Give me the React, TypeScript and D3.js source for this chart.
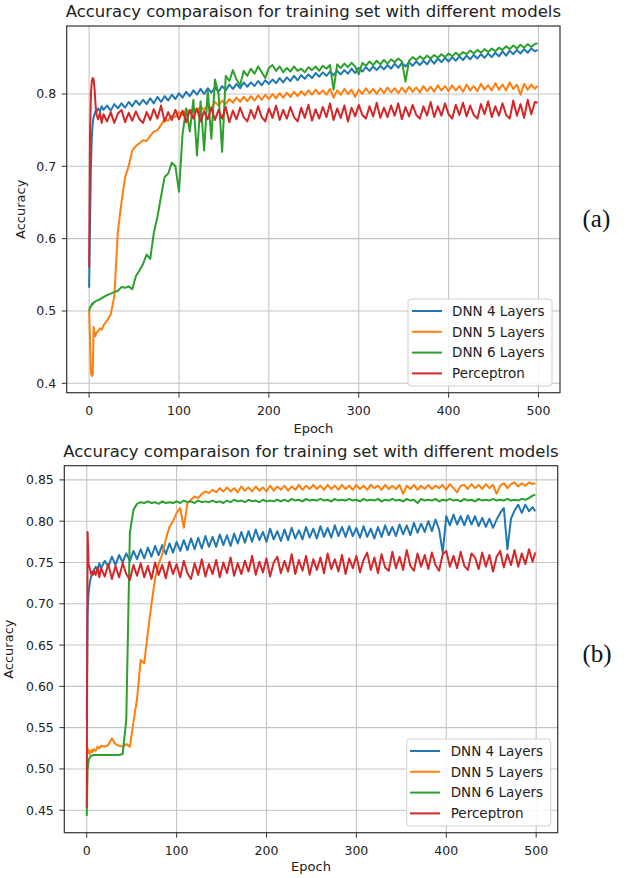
import React from "react";
import * as d3 from "d3";

// x grid of sampled epochs (dense at the start, then every 4 epochs)
const EPOCHS: number[] = [0, 1, 2, 3, 4, 5, 6, 7, 8, 10, 12, 14, 16, ...d3.range(20, 497, 4), 499];

const SERIES_NAMES = ["DNN 4 Layers", "DNN 5 Layers", "DNN 6 Layers", "Perceptron"];
const COLORS = ["#1f77b4", "#ff7f0e", "#2ca02c", "#d62728"];
const TITLE = "Accuracy comparaison for training set with different models";
const X_TICKS = [0, 100, 200, 300, 400, 500];
const A_Y_TICKS = [0.4, 0.5, 0.6, 0.7, 0.8];
const B_Y_TICKS = [0.45, 0.5, 0.55, 0.6, 0.65, 0.7, 0.75, 0.8, 0.85];

// ---------- panel (a) ----------
const A_DNN4 = [
  0.532, 0.62, 0.70, 0.74, 0.76, 0.768, 0.772, 0.776, 0.775, 0.780, 0.776, 0.783, 0.778,
  0.784, 0.777, 0.786, 0.780, 0.787, 0.781, 0.789, 0.783, 0.791, 0.785,
  0.792, 0.786, 0.794, 0.787, 0.796, 0.789, 0.797, 0.791, 0.799, 0.793,
  0.801, 0.795, 0.803, 0.797, 0.805, 0.799, 0.807, 0.800, 0.808, 0.802,
  0.809, 0.803, 0.811, 0.805, 0.813, 0.807, 0.814, 0.808, 0.816, 0.810,
  0.816, 0.811, 0.818, 0.812, 0.819, 0.814, 0.820, 0.815, 0.822, 0.816,
  0.823, 0.818, 0.825, 0.819, 0.826, 0.821, 0.827, 0.822, 0.829, 0.824,
  0.830, 0.825, 0.831, 0.826, 0.832, 0.827, 0.833, 0.828, 0.835, 0.829,
  0.836, 0.831, 0.837, 0.832, 0.838, 0.833, 0.839, 0.834, 0.840, 0.835,
  0.842, 0.836, 0.843, 0.838, 0.844, 0.839, 0.845, 0.840, 0.846, 0.841,
  0.848, 0.842, 0.849, 0.844, 0.850, 0.845, 0.851, 0.846, 0.852, 0.847,
  0.853, 0.848, 0.854, 0.849, 0.855, 0.850, 0.856, 0.851, 0.857, 0.852,
  0.859, 0.853, 0.860, 0.855, 0.861, 0.856, 0.862, 0.857, 0.863, 0.859,
  0.861,
];
const A_DNN5 = [
  0.50, 0.46, 0.415, 0.41, 0.412, 0.478, 0.468, 0.465, 0.470, 0.472, 0.476, 0.474, 0.480,
  0.487, 0.495, 0.520, 0.610, 0.650, 0.685, 0.700, 0.722, 0.728, 0.732,
  0.736, 0.735, 0.742, 0.748, 0.750, 0.757, 0.765, 0.763, 0.770, 0.768,
  0.775, 0.771, 0.779, 0.774, 0.781, 0.776, 0.783, 0.778, 0.785, 0.780,
  0.789, 0.784, 0.791, 0.786, 0.793, 0.788, 0.795, 0.789, 0.796, 0.790,
  0.797, 0.791, 0.798, 0.792, 0.799, 0.793, 0.800, 0.794, 0.801, 0.795,
  0.802, 0.796, 0.803, 0.797, 0.804, 0.798, 0.805, 0.799, 0.806, 0.800,
  0.805, 0.799, 0.807, 0.795, 0.805, 0.799, 0.807, 0.800, 0.806, 0.796,
  0.806, 0.800, 0.808, 0.801, 0.807, 0.800, 0.808, 0.801, 0.809, 0.802,
  0.808, 0.801, 0.809, 0.802, 0.810, 0.803, 0.809, 0.802, 0.811, 0.804,
  0.810, 0.803, 0.812, 0.805, 0.811, 0.804, 0.812, 0.805, 0.811, 0.803,
  0.813, 0.805, 0.811, 0.804, 0.814, 0.806, 0.812, 0.805, 0.815, 0.806,
  0.813, 0.805, 0.816, 0.807, 0.813, 0.799, 0.814, 0.806, 0.813, 0.807,
  0.811,
];
const A_DNN6 = [
  0.500, 0.505, 0.506, 0.510, 0.509, 0.512, 0.512, 0.513, 0.514, 0.515, 0.516, 0.518, 0.519,
  0.522, 0.524, 0.526, 0.528, 0.533, 0.532, 0.534, 0.530, 0.548, 0.556,
  0.565, 0.578, 0.572, 0.608, 0.630, 0.658, 0.685, 0.690, 0.705, 0.700,
  0.665, 0.745, 0.780, 0.748, 0.792, 0.715, 0.790, 0.722, 0.805, 0.738,
  0.820, 0.800, 0.720, 0.825, 0.818, 0.833, 0.820, 0.812, 0.832, 0.825,
  0.835, 0.828, 0.838, 0.830, 0.822, 0.836, 0.840, 0.832, 0.838, 0.830,
  0.836, 0.831, 0.838, 0.832, 0.835, 0.830, 0.837, 0.833, 0.838, 0.832,
  0.839, 0.835, 0.840, 0.806, 0.841, 0.836, 0.842, 0.837, 0.843, 0.838,
  0.827, 0.843, 0.839, 0.845, 0.840, 0.846, 0.841, 0.847, 0.842, 0.848,
  0.844, 0.849, 0.845, 0.817, 0.846, 0.851, 0.847, 0.852, 0.848, 0.853,
  0.849, 0.854, 0.850, 0.855, 0.851, 0.856, 0.852, 0.857, 0.853, 0.858,
  0.855, 0.860, 0.856, 0.861, 0.857, 0.862, 0.858, 0.863, 0.859, 0.864,
  0.861, 0.866, 0.862, 0.867, 0.863, 0.868, 0.864, 0.869, 0.865, 0.869,
  0.870,
];
const A_PERC = [
  0.560, 0.745, 0.800, 0.818, 0.822, 0.820, 0.808, 0.788, 0.772, 0.765, 0.774, 0.760, 0.772,
  0.762, 0.775, 0.760, 0.773, 0.778, 0.761, 0.774, 0.763, 0.776, 0.765,
  0.760, 0.775, 0.764, 0.779, 0.766, 0.784, 0.762, 0.775, 0.764, 0.778,
  0.765, 0.777, 0.761, 0.778, 0.766, 0.780, 0.762, 0.776, 0.765, 0.781,
  0.764, 0.778, 0.766, 0.782, 0.761, 0.777, 0.765, 0.781, 0.768, 0.762,
  0.778, 0.766, 0.783, 0.768, 0.762, 0.780, 0.767, 0.784, 0.764, 0.778,
  0.766, 0.782, 0.768, 0.762, 0.781, 0.767, 0.785, 0.763, 0.779, 0.766,
  0.782, 0.768, 0.787, 0.764, 0.780, 0.767, 0.784, 0.762, 0.781, 0.769,
  0.785, 0.771, 0.766, 0.783, 0.769, 0.788, 0.767, 0.781, 0.768, 0.784,
  0.770, 0.787, 0.765, 0.782, 0.769, 0.785, 0.771, 0.766, 0.783, 0.770,
  0.789, 0.768, 0.783, 0.770, 0.787, 0.772, 0.766, 0.785, 0.771, 0.788,
  0.769, 0.784, 0.771, 0.766, 0.786, 0.772, 0.790, 0.768, 0.783, 0.770,
  0.787, 0.771, 0.766, 0.791, 0.770, 0.786, 0.767, 0.792, 0.772, 0.789,
  0.788,
];

// ---------- panel (b) ----------
const B_DNN4 = [
  0.560, 0.690, 0.712, 0.722, 0.729, 0.733, 0.737, 0.739, 0.741, 0.745, 0.740, 0.749, 0.743,
  0.752, 0.745, 0.757, 0.747, 0.759, 0.750, 0.761, 0.752, 0.764, 0.754,
  0.766, 0.755, 0.768, 0.757, 0.770, 0.759, 0.771, 0.760, 0.773, 0.762,
  0.775, 0.764, 0.777, 0.765, 0.779, 0.766, 0.780, 0.767, 0.782, 0.769,
  0.781, 0.769, 0.784, 0.771, 0.783, 0.770, 0.785, 0.773, 0.787, 0.774,
  0.788, 0.775, 0.790, 0.777, 0.787, 0.775, 0.791, 0.778, 0.788, 0.776,
  0.790, 0.777, 0.792, 0.779, 0.789, 0.778, 0.793, 0.780, 0.791, 0.779,
  0.794, 0.781, 0.792, 0.780, 0.795, 0.782, 0.793, 0.781, 0.794, 0.782,
  0.792, 0.780, 0.794, 0.781, 0.791, 0.779, 0.793, 0.781, 0.795, 0.783,
  0.793, 0.782, 0.796, 0.784, 0.795, 0.783, 0.798, 0.786, 0.797, 0.787,
  0.800, 0.788, 0.802, 0.790, 0.762, 0.806, 0.795, 0.808, 0.796, 0.806,
  0.795, 0.807, 0.796, 0.806, 0.794, 0.804, 0.793, 0.803, 0.792, 0.802,
  0.810, 0.816, 0.766, 0.803, 0.813, 0.820, 0.810, 0.820, 0.812, 0.817,
  0.812,
];
const B_DNN5 = [
  0.515, 0.525, 0.522, 0.518, 0.522, 0.520, 0.523, 0.521, 0.524, 0.522, 0.527, 0.525, 0.528,
  0.527, 0.529, 0.537, 0.530, 0.528, 0.527, 0.530, 0.527, 0.557, 0.585,
  0.632, 0.628, 0.665, 0.700, 0.730, 0.748, 0.760, 0.778, 0.793, 0.800,
  0.810, 0.816, 0.792, 0.822, 0.826, 0.830, 0.828, 0.833, 0.836, 0.834,
  0.838, 0.835, 0.840, 0.836, 0.841, 0.836, 0.840, 0.835, 0.842, 0.837,
  0.841, 0.836, 0.842, 0.837, 0.841, 0.836, 0.843, 0.837, 0.842, 0.838,
  0.843, 0.837, 0.842, 0.838, 0.844, 0.838, 0.843, 0.839, 0.844, 0.839,
  0.843, 0.838, 0.844, 0.839, 0.843, 0.838, 0.844, 0.839, 0.843, 0.838,
  0.844, 0.839, 0.843, 0.838, 0.844, 0.840, 0.843, 0.838, 0.844, 0.839,
  0.843, 0.839, 0.844, 0.833, 0.843, 0.839, 0.844, 0.838, 0.843, 0.839,
  0.844, 0.839, 0.843, 0.840, 0.844, 0.838, 0.845, 0.840, 0.835, 0.843,
  0.844, 0.839, 0.845, 0.840, 0.844, 0.839, 0.845, 0.840, 0.844, 0.833,
  0.843, 0.846, 0.840, 0.845, 0.847, 0.842, 0.846, 0.843, 0.847, 0.845,
  0.846,
];
const B_DNN6 = [
  0.443, 0.500, 0.510, 0.513, 0.515, 0.516, 0.516, 0.517, 0.517, 0.517, 0.517, 0.517, 0.517,
  0.517, 0.517, 0.517, 0.517, 0.517, 0.518, 0.560, 0.786, 0.814, 0.821,
  0.823, 0.822, 0.824, 0.822, 0.823, 0.821, 0.824, 0.822, 0.823, 0.822,
  0.824, 0.822, 0.825, 0.823, 0.824, 0.822, 0.825, 0.823, 0.824, 0.823,
  0.825, 0.823, 0.824, 0.822, 0.825, 0.823, 0.826, 0.824, 0.825, 0.823,
  0.826, 0.824, 0.825, 0.823, 0.826, 0.824, 0.825, 0.824, 0.826, 0.824,
  0.826, 0.824, 0.827, 0.825, 0.826, 0.824, 0.827, 0.825, 0.826, 0.825,
  0.827, 0.825, 0.826, 0.824, 0.827, 0.825, 0.826, 0.825, 0.827, 0.825,
  0.826, 0.824, 0.827, 0.825, 0.826, 0.825, 0.827, 0.824, 0.826, 0.825,
  0.827, 0.825, 0.826, 0.824, 0.827, 0.825, 0.826, 0.822, 0.827, 0.825,
  0.826, 0.825, 0.827, 0.824, 0.826, 0.825, 0.827, 0.825, 0.826, 0.824,
  0.827, 0.825, 0.826, 0.824, 0.827, 0.825, 0.826, 0.825, 0.827, 0.825,
  0.826, 0.825, 0.827, 0.825, 0.826, 0.825, 0.827, 0.826, 0.828, 0.831,
  0.832,
];
const B_PERC = [
  0.453, 0.787, 0.748, 0.745, 0.740, 0.736, 0.738, 0.735, 0.740, 0.735, 0.744, 0.732, 0.743,
  0.733, 0.748, 0.730, 0.746, 0.732, 0.749, 0.736, 0.729, 0.747, 0.734,
  0.749, 0.732, 0.746, 0.730, 0.750, 0.735, 0.747, 0.731, 0.751, 0.736,
  0.748, 0.732, 0.752, 0.737, 0.730, 0.749, 0.735, 0.754, 0.733, 0.748,
  0.736, 0.753, 0.732, 0.750, 0.737, 0.756, 0.734, 0.749, 0.736, 0.752,
  0.739, 0.758, 0.735, 0.751, 0.738, 0.755, 0.733, 0.750, 0.757, 0.737,
  0.752, 0.739, 0.760, 0.736, 0.753, 0.740, 0.758, 0.735, 0.754, 0.741,
  0.756, 0.737, 0.761, 0.742, 0.754, 0.739, 0.759, 0.736, 0.755, 0.743,
  0.758, 0.738, 0.753, 0.762, 0.741, 0.756, 0.737, 0.760, 0.744, 0.740,
  0.763, 0.743, 0.757, 0.741, 0.765, 0.746, 0.740, 0.761, 0.745, 0.759,
  0.742, 0.762, 0.747, 0.740, 0.760, 0.764, 0.745, 0.758, 0.743, 0.763,
  0.746, 0.741, 0.761, 0.756, 0.742, 0.762, 0.745, 0.759, 0.739, 0.757,
  0.764, 0.744, 0.760, 0.747, 0.765, 0.745, 0.761, 0.748, 0.766, 0.751,
  0.762,
];

const FONT = "DejaVu Sans, sans-serif";

type Panel = {
  series: number[][];
  yDomain: [number, number];
  yTicks: number[];
  fmt: string;
  box: { l: number; r: number; t: number; b: number };
  titleY: number;
  xLabelY: number;
  yLabelX: number;
  tag: string;
  tagY: number;
  legend: { x: number; y: number; w: number; h: number; lineX: number; textX: number };
};

const PANELS: Panel[] = [
  {
    series: [A_DNN4, A_DNN5, A_DNN6, A_PERC],
    yDomain: [0.387, 0.894],
    yTicks: A_Y_TICKS,
    fmt: ".1f",
    box: { l: 66.7, r: 560, t: 26, b: 392.7 },
    titleY: 16.5,
    xLabelY: 432.5,
    yLabelX: 24.5,
    tag: "(a)",
    tagY: 227,
    legend: { x: 408, y: 299, w: 144, h: 87, lineX: 412, textX: 452 },
  },
  {
    series: [B_DNN4, B_DNN5, B_DNN6, B_PERC],
    yDomain: [0.4228, 0.8672],
    yTicks: B_Y_TICKS,
    fmt: ".2f",
    box: { l: 64.3, r: 557.7, t: 465.7, b: 832.7 },
    titleY: 456.5,
    xLabelY: 871,
    yLabelX: 13,
    tag: "(b)",
    tagY: 662,
    legend: { x: 406.7, y: 739, w: 144, h: 87, lineX: 410, textX: 450.7 },
  },
];

function ChartPanel({ p }: { p: Panel }) {
  const { l, r, t, b } = p.box;
  const x = d3.scaleLinear().domain([-24.95, 523.95]).range([l, r]);
  const y = d3.scaleLinear().domain(p.yDomain).range([b, t]);
  const line = d3
    .line<number>()
    .x((_, i) => x(EPOCHS[i]))
    .y((d) => y(d));
  const fmt = d3.format(p.fmt);
  const rowGap = 20.8;
  return (
    <g>
      <text x={(l + r) / 2} y={p.titleY} textAnchor="middle" fontFamily={FONT} fontSize={16.5} fill="#222">
        {TITLE}
      </text>
      {X_TICKS.map((v) => (
        <line key={"gx" + v} x1={x(v)} x2={x(v)} y1={t} y2={b} stroke="#c4c4c4" strokeWidth={1.1} />
      ))}
      {p.yTicks.map((v) => (
        <line key={"gy" + v} x1={l} x2={r} y1={y(v)} y2={y(v)} stroke="#c4c4c4" strokeWidth={1.1} />
      ))}
      <g>
        {p.series.map((s, i) => (
          <path key={i} d={line(s) || ""} fill="none" stroke={COLORS[i]} strokeWidth={2} strokeLinejoin="round" />
        ))}
      </g>
      <rect x={l} y={t} width={r - l} height={b - t} fill="none" stroke="#333" strokeWidth={1.2} />
      {X_TICKS.map((v) => (
        <g key={"xt" + v}>
          <line x1={x(v)} x2={x(v)} y1={b} y2={b + 5} stroke="#333" strokeWidth={1} />
          <text x={x(v)} y={b + 22.3} textAnchor="middle" fontFamily={FONT} fontSize={12.5} fill="#222">
            {v}
          </text>
        </g>
      ))}
      {p.yTicks.map((v) => (
        <g key={"yt" + v}>
          <line x1={l - 5} x2={l} y1={y(v)} y2={y(v)} stroke="#333" strokeWidth={1} />
          <text x={l - 10.5} y={y(v)} dy="0.36em" textAnchor="end" fontFamily={FONT} fontSize={12.5} fill="#222">
            {fmt(v)}
          </text>
        </g>
      ))}
      <text x={(l + r) / 2} y={p.xLabelY} textAnchor="middle" fontFamily={FONT} fontSize={13} fill="#222">
        Epoch
      </text>
      <text
        transform={`translate(${p.yLabelX},${(t + b) / 2}) rotate(-90)`}
        textAnchor="middle"
        fontFamily={FONT}
        fontSize={13}
        fill="#222"
      >
        Accuracy
      </text>
      <rect
        x={p.legend.x}
        y={p.legend.y}
        width={p.legend.w}
        height={p.legend.h}
        rx={3}
        fill="#ffffff"
        fillOpacity={0.85}
        stroke="#d0d0d0"
        strokeWidth={1}
      />
      {SERIES_NAMES.map((name, i) => {
        const cy = p.legend.y + 12 + i * rowGap;
        return (
          <g key={name}>
            <line x1={p.legend.lineX} x2={p.legend.lineX + 30} y1={cy} y2={cy} stroke={COLORS[i]} strokeWidth={2} />
            <text x={p.legend.textX} y={cy} dy="0.36em" fontFamily={FONT} fontSize={13.5} fill="#222">
              {name}
            </text>
          </g>
        );
      })}
      <text x={582.5} y={p.tagY} fontFamily="Liberation Serif, serif" fontSize={25} fill="#111">
        {p.tag}
      </text>
    </g>
  );
}

export default function App() {
  return (
    <svg width={631} height={878} style={{ position: "absolute", left: 0, top: 0, background: "#fff" }}>
      <rect width={631} height={878} fill="#fff" />
      {PANELS.map((p, i) => (
        <ChartPanel key={i} p={p} />
      ))}
    </svg>
  );
}
